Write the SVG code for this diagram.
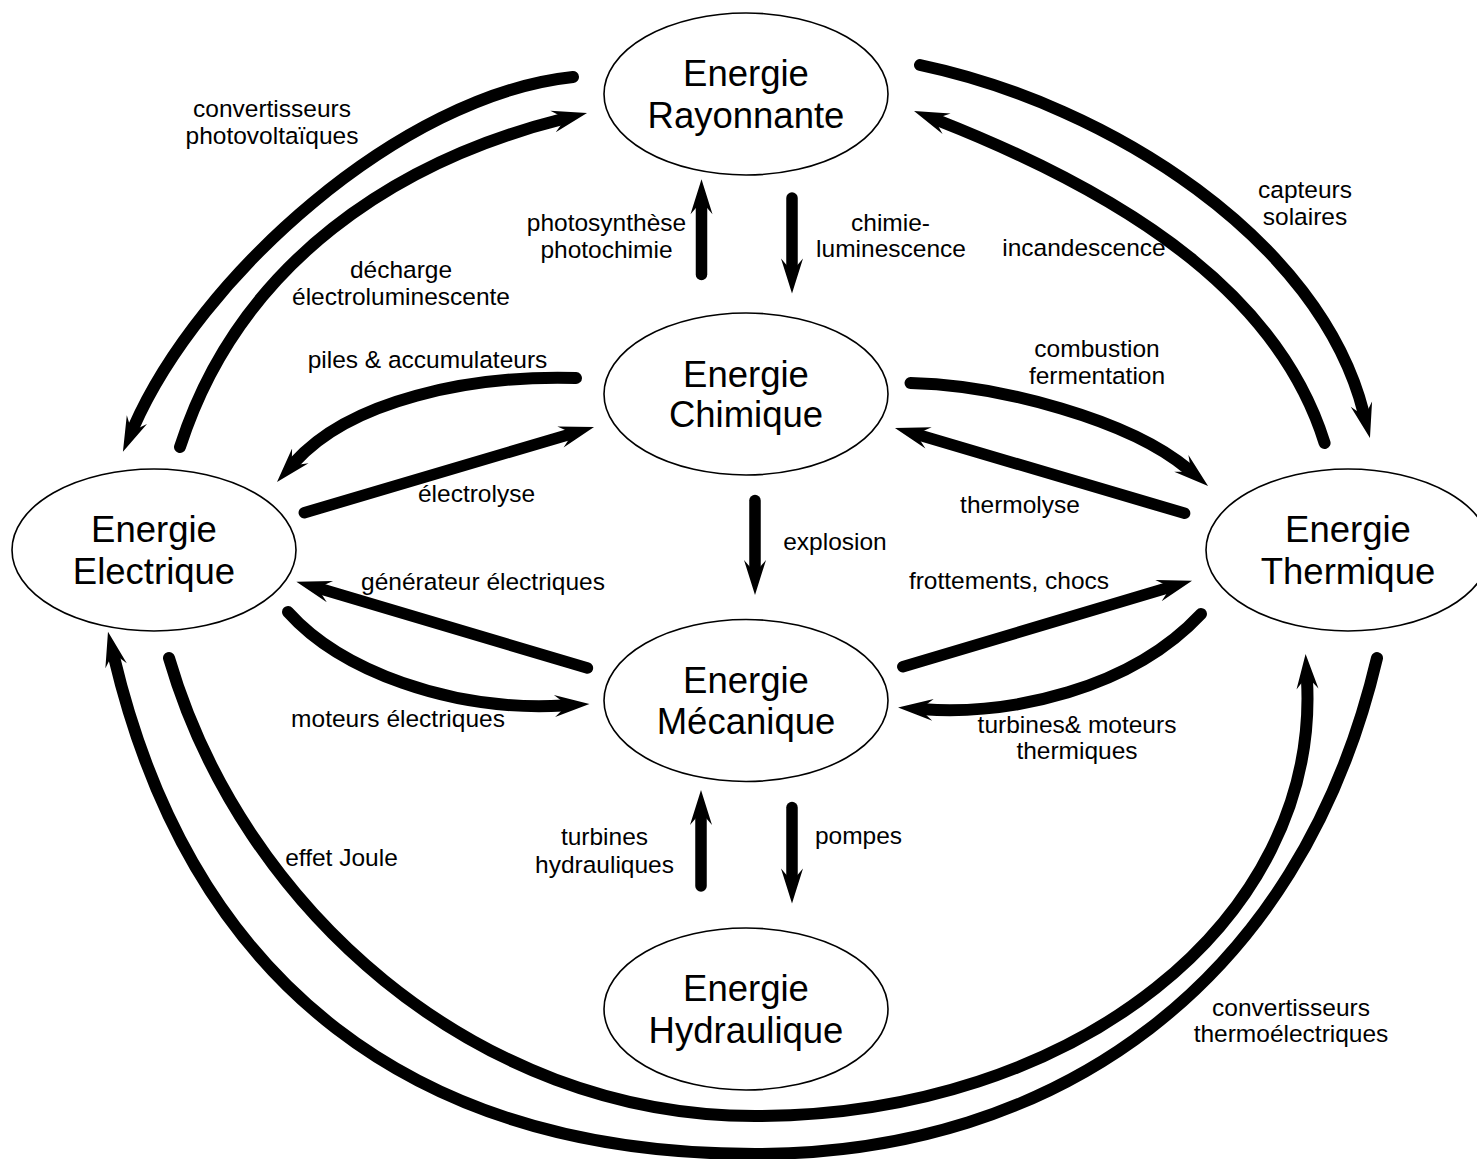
<svg xmlns="http://www.w3.org/2000/svg" width="1477" height="1159" viewBox="0 0 1477 1159">
<defs>
<style>
.node ellipse{fill:#fff;stroke:#000;stroke-width:1.6}
.nl{font-family:"Liberation Sans",Arial,sans-serif;font-size:36.5px;text-anchor:middle;fill:#000}
.el{font-family:"Liberation Sans",Arial,sans-serif;font-size:24.5px;text-anchor:middle;fill:#000}
.c path{fill:none;stroke:#000;stroke-width:12;stroke-linecap:round;marker-end:url(#ah)}
.c path.s{stroke-width:11.5}
</style>
<marker id="ah" markerUnits="userSpaceOnUse" orient="auto" refX="0" refY="0" markerWidth="40" markerHeight="30" overflow="visible">
<path d="M26,0 L-9,-11 L-2,-5 L-2,5 L-9,11 Z" fill="#000"/>
</marker>
</defs>
<rect width="1477" height="1159" fill="#fff"/>

<g id="connectors" class="c">
<path id="ray-elec" d="M573,77 C400,95 199,277 133.3,427.9"/>
<path id="elec-ray" d="M180,447 C240,260 400,160 561.8,119.3"/>
<path id="ray-therm" d="M920,65 C1110,105 1320,240 1363.6,412.8"/>
<path id="therm-ray" d="M1324.6,443 C1280,300 1140,200 938.2,120.5"/>
<path id="ray-chim" class="s" d="M792,198 L792,267.5"/>
<path id="chim-ray" class="s" d="M701.5,274.5 L701.5,205.3"/>
<path id="chim-elec" d="M576,378 C470,375 350,400 294.3,462.6"/>
<path id="elec-chim" class="s" d="M304.3,512.7 L569.1,434.4"/>
<path id="chim-therm" d="M910.5,383 C1000,385 1130,420 1188.2,469.2"/>
<path id="therm-chim" class="s" d="M1184.6,513.3 L919.9,435.3"/>
<path id="chim-meca" class="s" d="M755,500.5 L755,569"/>
<path id="meca-elec" class="s" d="M587.4,668 L321.3,589.1"/>
<path id="elec-meca" d="M288,612 C340,670 450,712 563.5,705.5"/>
<path id="meca-therm" class="s" d="M902.8,666.7 L1167.1,588.1"/>
<path id="therm-meca" d="M1201,614 C1130,690 1010,715 924,709.3"/>
<path id="meca-hydr" class="s" d="M792,807.5 L792,877.5"/>
<path id="hydr-meca" class="s" d="M701,886 L701,816"/>
<path id="therm-elec" d="M1377,658 C1300,985 1055,1154 755,1154 C415,1154 192,985 114,657"/>
<path id="elec-therm" d="M169,658 C241.8,907.6 475,1116 755,1116 C1075,1116 1320,920 1307,680"/>
</g>

<g id="labels" class="el">
<text x="272" y="117">convertisseurs</text>
<text x="272" y="144">photovoltaïques</text>
<text x="401" y="278">décharge</text>
<text x="401" y="305">électroluminescente</text>
<text x="427.5" y="368">piles &amp; accumulateurs</text>
<text x="606.5" y="231">photosynthèse</text>
<text x="606.5" y="258">photochimie</text>
<text x="890.5" y="231">chimie-</text>
<text x="891" y="257">luminescence</text>
<text x="1084" y="256">incandescence</text>
<text x="1305" y="198">capteurs</text>
<text x="1305" y="225">solaires</text>
<text x="1097" y="357">combustion</text>
<text x="1097" y="384">fermentation</text>
<text x="476.5" y="502">électrolyse</text>
<text x="1020" y="513">thermolyse</text>
<text x="835" y="550">explosion</text>
<text x="483" y="590">générateur électriques</text>
<text x="1009" y="589">frottements, chocs</text>
<text x="398" y="726.5">moteurs électriques</text>
<text x="1077" y="732.5">turbines&amp; moteurs</text>
<text x="1077" y="759">thermiques</text>
<text x="341.5" y="865.5">effet Joule</text>
<text x="604.5" y="845">turbines</text>
<text x="604.5" y="872.5">hydrauliques</text>
<text x="858.5" y="843.5">pompes</text>
<text x="1291" y="1016">convertisseurs</text>
<text x="1291" y="1042">thermoélectriques</text>
</g>

<g id="node-rayonnante" class="node">
<ellipse cx="746" cy="94" rx="142" ry="81"/>
<text class="nl" x="746" y="86">Energie</text>
<text class="nl" x="746" y="127.5">Rayonnante</text>
</g>
<g id="node-chimique" class="node">
<ellipse cx="746" cy="394" rx="142" ry="81"/>
<text class="nl" x="746" y="386.5">Energie</text>
<text class="nl" x="746" y="427">Chimique</text>
</g>
<g id="node-electrique" class="node">
<ellipse cx="154" cy="550" rx="142" ry="81"/>
<text class="nl" x="154" y="542">Energie</text>
<text class="nl" x="154" y="583.5">Electrique</text>
</g>
<g id="node-thermique" class="node">
<ellipse cx="1348" cy="550" rx="142" ry="81"/>
<text class="nl" x="1348" y="542">Energie</text>
<text class="nl" x="1348" y="583.5">Thermique</text>
</g>
<g id="node-mecanique" class="node">
<ellipse cx="746" cy="700.5" rx="142" ry="81"/>
<text class="nl" x="746" y="692.5">Energie</text>
<text class="nl" x="746" y="734">Mécanique</text>
</g>
<g id="node-hydraulique" class="node">
<ellipse cx="746" cy="1009" rx="142" ry="81"/>
<text class="nl" x="746" y="1001">Energie</text>
<text class="nl" x="746" y="1042.5">Hydraulique</text>
</g>
</svg>
